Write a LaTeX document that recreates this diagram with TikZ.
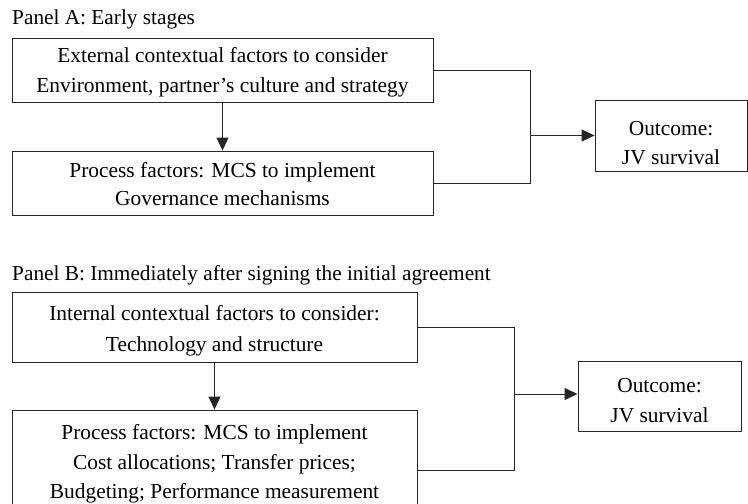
\documentclass[tikz,border=0pt]{standalone}
\usepackage{fontspec}
\setmainfont{Liberation Serif}
\usetikzlibrary{arrows.meta}
\begin{document}
\begin{tikzpicture}[x=1pt,y=-1pt,
  box/.style={draw=black!85, line width=0.9pt, rectangle, inner sep=0pt},
  txt/.style={inner sep=0pt, align=center},
  title/.style={anchor=base west, inner sep=0pt, font=\fontsize{21.3}{24}\selectfont},
  conn/.style={draw=black!85, line width=0.9pt},
  arr/.style={conn, -{Triangle[length=13pt,width=12pt]}}]
\useasboundingbox (0,0) rectangle (748,504);
\clip (0,0) rectangle (748,504);
% Panel A
\node[title] (tA) at (12,24) {Panel A: Early stages};
\node[box, minimum width=421pt, minimum height=64pt] (b1) at (222.5,70) {};
\node[txt, font=\fontsize{21.4}{30}\selectfont] (b1t) at (222.5,72.5)
  {External contextual factors to consider\\Environment, partner’s culture and strategy};
\node[box, minimum width=421pt, minimum height=64pt] (b2) at (222.5,183) {};
\node[txt, font=\fontsize{21.4}{28.5}\selectfont] (b2t) at (222.5,184)
  {Process factors: MCS to implement\\Governance mechanisms};
\node[box, minimum width=152pt, minimum height=71pt] (oA) at (671,135.5) {};
\node[txt, font=\fontsize{21.4}{29.5}\selectfont] (oAt) at (671,143)
  {Outcome:\\JV survival};
\coordinate (jA) at (530,135.5);
\draw[arr] (b1) -- (b2);
\draw[conn] (b1.east) -| (jA);
\draw[conn] (b2.east) -| (jA);
\draw[arr] (jA) -- (oA.west);
% Panel B
\node[title] (tB) at (12,280) {Panel B: Immediately after signing the initial agreement};
\node[box, minimum width=405pt, minimum height=70pt] (b3) at (214.5,327) {};
\node[txt, font=\fontsize{21.4}{31}\selectfont] (b3t) at (214.5,331)
  {Internal contextual factors to consider:\\Technology and structure};
\node[box, minimum width=405pt, minimum height=120pt] (b4) at (214.5,470) {};
\node[txt, font=\fontsize{21.4}{29.5}\selectfont] (b4t) at (214.5,464)
  {Process factors: MCS to implement\\Cost allocations; Transfer prices;\\Budgeting; Performance measurement};
\node[box, minimum width=163pt, minimum height=70pt] (oB) at (659.5,396) {};
\node[txt, font=\fontsize{21.4}{30}\selectfont] (oBt) at (659.5,401)
  {Outcome:\\JV survival};
\coordinate (jB) at (514,394);
\draw[arr] (b3) -- (b4);
\draw[conn] (b3.east) -| (jB);
\draw[conn] (b4.east) -| (jB);
\draw[arr] (jB) -- (oB.west |- jB);
\end{tikzpicture}
\end{document}
